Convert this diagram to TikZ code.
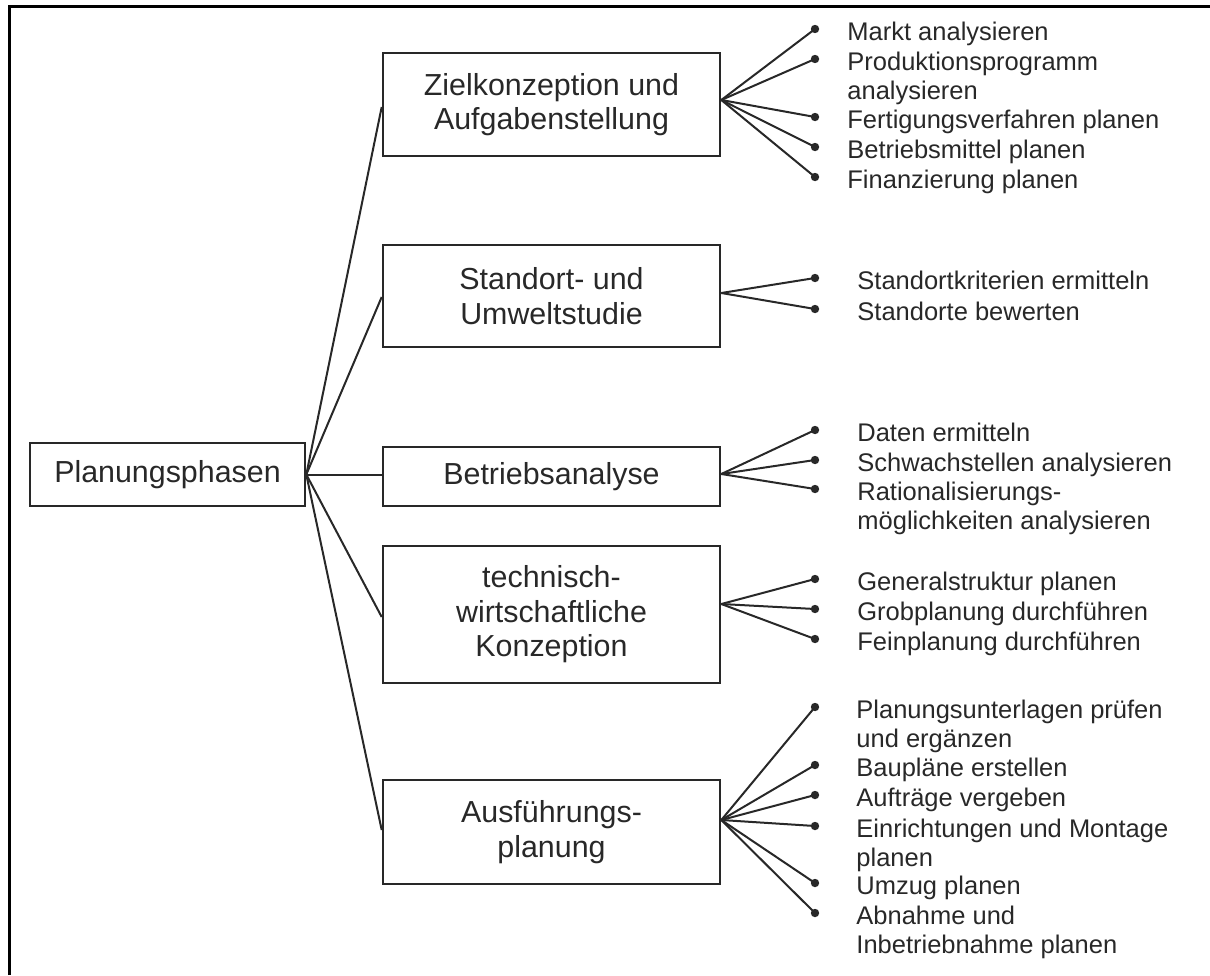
\documentclass[tikz,border=0pt]{standalone}
\usepackage{fontspec}
\setmainfont{Liberation Sans}
\definecolor{ink}{RGB}{40,40,40}
\begin{document}
\begin{tikzpicture}[x=0.5pt,y=-0.5pt,
  box/.style={draw=ink, line width=1.3pt, minimum width=168.5pt, inner sep=0pt,
    align=center, font=\fontsize{15.2}{17.25}\selectfont, text=ink},
  link/.style={draw=ink, line width=1pt},
  dot/.style={circle, fill=ink, inner sep=0pt, minimum size=4.2pt},
  item/.style={anchor=north west, inner sep=0pt, align=left,
    font=\fontsize{12.75}{14.75}\selectfont, text=ink},
  frame/.style={draw=black, line width=1.5pt}]
\useasboundingbox (0,0) rectangle (1210,975);
\coordinate (fbl) at (9,975);
\coordinate (ftl) at (9,6);
\coordinate (ftr) at (1210,6);
\draw[frame] (fbl) -- (ftl) -- (ftr);

% main boxes
\node[box, minimum width=137.5pt, minimum height=31.5pt] (P) at (167.5,474.5) {Planungsphasen};
\node[box, minimum height=51.5pt] (b1) at (551.5,104.5) {Zielkonzeption und\\Aufgabenstellung};
\node[box, minimum height=51pt] (b2) at (551.5,296) {Standort- und\\Umweltstudie};
\node[box, minimum height=29.5pt] (b3) at (551.5,476.5) {Betriebsanalyse};
\node[box, minimum height=68.5pt] (b4) at (551.5,614.5) {technisch-\\wirtschaftliche\\Konzeption};
\node[box, minimum height=52pt] (b5) at (551.5,832) {Ausführungs-\\planung};

% connectors from Planungsphasen
\draw[link] (P.east) -- ([yshift=-1.25pt]b1.west);
\draw[link] (P.east) -- ([yshift=-0.5pt]b2.west);
\draw[link] (P.east) -- ([yshift=1pt]b3.west);
\draw[link] (P.east) -- ([yshift=-1.25pt]b4.west);
\draw[link] (P.east) -- ([yshift=1pt]b5.west);

% group 1
\node[dot] (d11) at (815,29) {};
\node[dot] (d12) at (815,59) {};
\node[dot] (d13) at (815,117) {};
\node[dot] (d14) at (815,147) {};
\node[dot] (d15) at (815,177) {};
\node[item] (t11) at (847,19) {\strut Markt analysieren};
\node[item] (t12) at (847,49) {\strut Produktionsprogramm\\analysieren};
\node[item] (t13) at (847,107) {\strut Fertigungsverfahren planen};
\node[item] (t14) at (847,137) {\strut Betriebsmittel planen};
\node[item] (t15) at (847,167) {\strut Finanzierung planen};
\foreach \i in {1,...,5} \draw[link] ([yshift=2.25pt]b1.east) -- (d1\i.center);

% group 2
\node[dot] (d21) at (815,278) {};
\node[dot] (d22) at (815,309) {};
\node[item] (t21) at (857,268) {\strut Standortkriterien ermitteln};
\node[item] (t22) at (857,299) {\strut Standorte bewerten};
\foreach \i in {1,2} \draw[link] ([yshift=1.5pt]b2.east) -- (d2\i.center);

% group 3
\node[dot] (d31) at (815,430) {};
\node[dot] (d32) at (815,460) {};
\node[dot] (d33) at (815,489) {};
\node[item] (t31) at (857,420) {\strut Daten ermitteln};
\node[item] (t32) at (857,450) {\strut Schwachstellen analysieren};
\node[item] (t33) at (857,479) {\strut Rationalisierungs-\\möglichkeiten analysieren};
\foreach \i in {1,2,3} \draw[link] ([yshift=1.25pt]b3.east) -- (d3\i.center);

% group 4
\node[dot] (d41) at (815,579) {};
\node[dot] (d42) at (815,609) {};
\node[dot] (d43) at (815,639) {};
\node[item] (t41) at (857,569) {\strut Generalstruktur planen};
\node[item] (t42) at (857,599) {\strut Grobplanung durchführen};
\node[item] (t43) at (857,629) {\strut Feinplanung durchführen};
\foreach \i in {1,2,3} \draw[link] ([yshift=5.25pt]b4.east) -- (d4\i.center);

% group 5
\node[dot] (d51) at (815,707) {};
\node[dot] (d52) at (815,765) {};
\node[dot] (d53) at (815,795) {};
\node[dot] (d54) at (815,826) {};
\node[dot] (d55) at (815,883) {};
\node[dot] (d56) at (815,913) {};
\node[item] (t51) at (856,697) {\strut Planungsunterlagen prüfen\\und ergänzen};
\node[item] (t52) at (856,755) {\strut Baupläne erstellen};
\node[item] (t53) at (856,785) {\strut Aufträge vergeben};
\node[item] (t54) at (856,816) {\strut Einrichtungen und Montage\\planen};
\node[item] (t55) at (856,873) {\strut Umzug planen};
\node[item] (t56) at (856,903) {\strut Abnahme und\\Inbetriebnahme planen};
\foreach \i in {1,...,6} \draw[link] ([yshift=6pt]b5.east) -- (d5\i.center);
\end{tikzpicture}
\end{document}
